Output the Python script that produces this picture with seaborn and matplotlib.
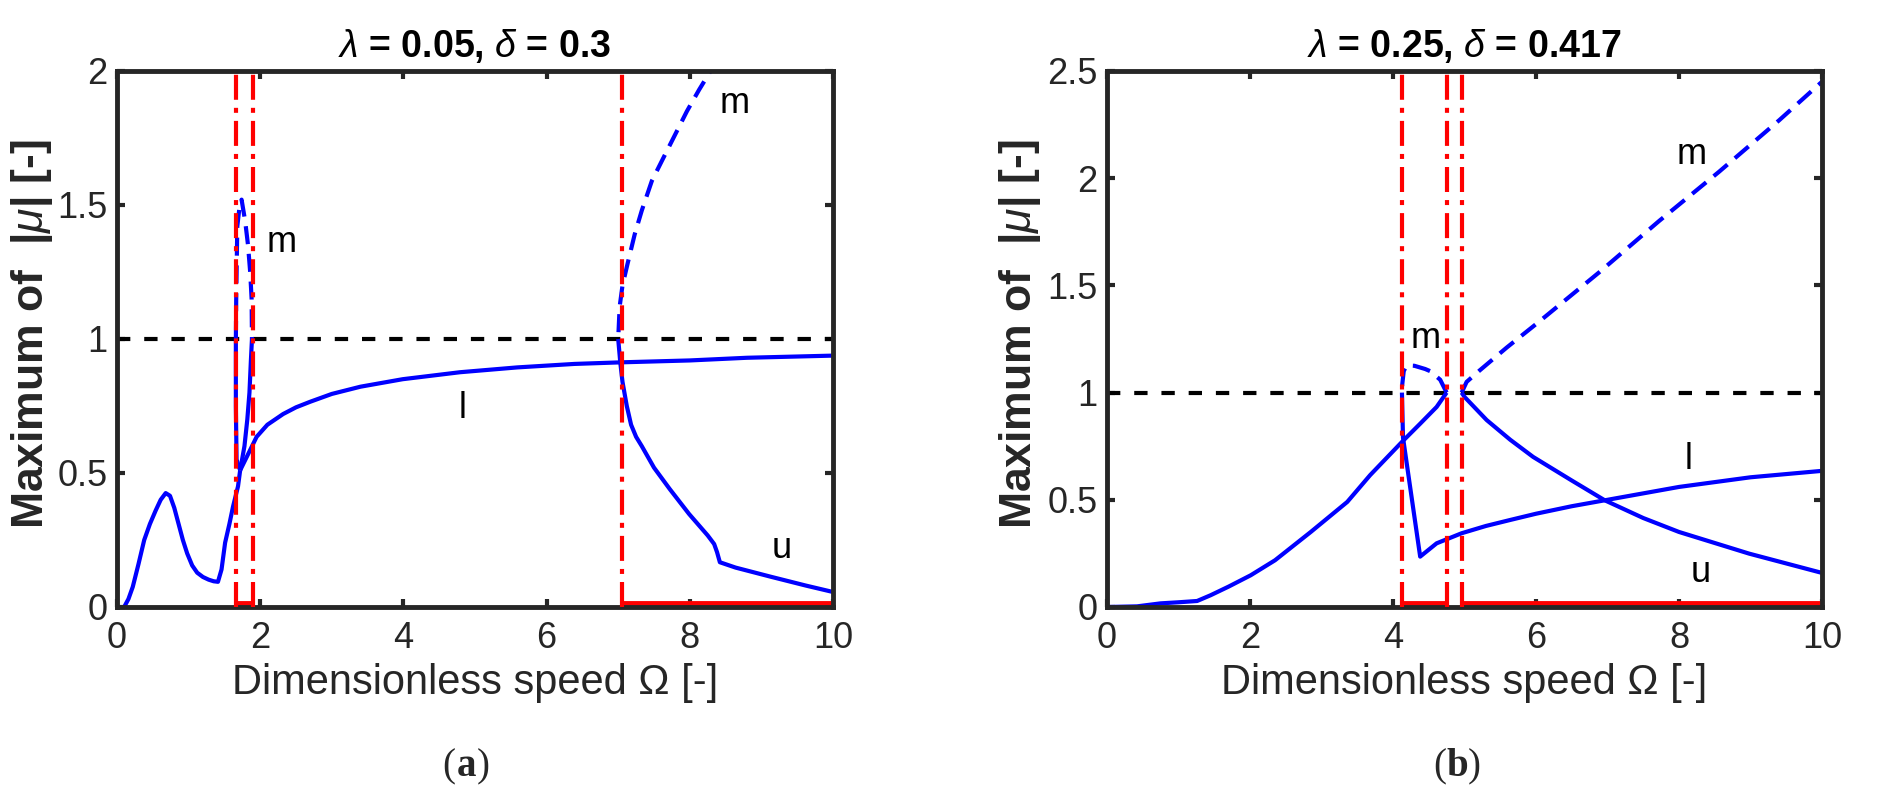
import numpy as np
import matplotlib
matplotlib.use("Agg")
import matplotlib.pyplot as plt
import seaborn as sns

# ---------------- data ----------------
# panel (a): lambda = 0.05, delta = 0.3
a_low_x = [0.10, 0.16, 0.22, 0.30, 0.38, 0.46, 0.54, 0.61, 0.68, 0.74, 0.80, 0.86, 0.92, 0.98, 1.05, 1.12, 1.20, 1.28, 1.35, 1.41, 1.46, 1.51, 1.57, 1.62, 1.69, 1.72]
a_low_y = [0.00, 0.03, 0.075, 0.16, 0.25, 0.31, 0.36, 0.40, 0.425, 0.415, 0.37, 0.31, 0.25, 0.20, 0.155, 0.128, 0.112, 0.102, 0.096, 0.094, 0.14, 0.24, 0.31, 0.374, 0.45, 0.51]

a_l_x = [1.72, 1.86, 1.95, 2.10, 2.32, 2.50, 2.70, 3.00, 3.40, 3.99, 4.79, 5.59, 6.39, 7.05, 8.00, 8.80, 10.0]
a_l_y = [0.51, 0.586, 0.635, 0.68, 0.72, 0.745, 0.766, 0.795, 0.822, 0.85, 0.876, 0.894, 0.907, 0.913, 0.92, 0.93, 0.938]

a_loop_x = [1.72, 1.67, 1.66, 1.66, 1.665, 1.68, 1.71, 1.74, 1.79, 1.83, 1.86, 1.88, 1.885, 1.87, 1.85, 1.82, 1.78, 1.74, 1.72]
a_loop_y = [0.51, 0.55, 0.75, 1.00, 1.15, 1.42, 1.49, 1.52, 1.44, 1.35, 1.25, 1.15, 1.00, 0.92, 0.80, 0.70, 0.60, 0.54, 0.51]

a_mu_x = [8.40, 8.29, 8.13, 7.96, 7.79, 7.62, 7.47, 7.33, 7.23, 7.13, 7.06, 7.02, 7.00, 7.03, 7.06, 7.12, 7.18, 7.25, 7.33, 7.50, 7.72, 7.99, 8.25, 8.34, 8.38, 8.42, 8.64, 9.13, 9.62, 10.0]
a_mu_y = [2.05, 2.00, 1.93, 1.85, 1.76, 1.67, 1.59, 1.48, 1.39, 1.28, 1.20, 1.12, 1.00, 0.91, 0.84, 0.75, 0.68, 0.635, 0.60, 0.52, 0.44, 0.347, 0.267, 0.235, 0.205, 0.167, 0.147, 0.113, 0.080, 0.056]

a_crit = [1.66, 1.90, 7.05]
a_unstable = [(1.66, 1.90), (7.05, 10.0)]

# panel (b): lambda = 0.25, delta = 0.417
b_rise_x = [0.0, 0.42, 0.75, 1.00, 1.26, 1.45, 1.70, 2.01, 2.35, 2.85, 3.36, 3.68, 4.14, 4.38, 4.61, 4.75]
b_rise_y = [0.0, 0.003, 0.017, 0.022, 0.028, 0.055, 0.095, 0.148, 0.218, 0.35, 0.49, 0.615, 0.775, 0.855, 0.933, 1.00]

b_m1_x = [4.75, 4.66, 4.52, 4.45, 4.30, 4.19, 4.15, 4.13, 4.125, 4.14, 4.38, 4.61, 4.96, 5.30, 5.64, 6.00, 6.50, 7.00, 7.50, 8.00, 9.00, 10.0]
b_m1_y = [1.00, 1.06, 1.10, 1.11, 1.125, 1.127, 1.10, 1.04, 1.00, 0.79, 0.235, 0.297, 0.344, 0.378, 0.406, 0.435, 0.47, 0.50, 0.53, 0.56, 0.605, 0.635]

b_m2_x = [4.96, 5.03, 5.20, 5.59, 6.04, 6.88, 7.72, 8.56, 9.40, 10.0]
b_m2_y = [1.00, 1.05, 1.10, 1.21, 1.33, 1.56, 1.80, 2.03, 2.27, 2.45]

b_u_x = [4.96, 5.00, 5.31, 5.64, 5.96, 6.50, 6.96, 7.50, 8.00, 8.98, 10.0]
b_u_y = [1.00, 0.98, 0.872, 0.78, 0.70, 0.59, 0.498, 0.415, 0.35, 0.249, 0.159]

b_crit = [4.12, 4.76, 4.96]
b_unstable = [(4.12, 4.76), (4.96, 10.0)]

x_ticks = [0, 2, 4, 6, 8, 10]
a_y_ticks = [0, 0.5, 1, 1.5, 2]
b_y_ticks = [0, 0.5, 1, 1.5, 2, 2.5]
a_ylim = 2.0
b_ylim = 2.5

titles = [r"$\lambda$ = 0.05, $\delta$ = 0.3", r"$\lambda$ = 0.25, $\delta$ = 0.417"]
xlabel = "Dimensionless speed Ω [-]"
ylabel = r"Maximum of  |$\mu$| [-]"

a_labels = [("m", 2.30, 1.36), ("m", 8.62, 1.88), ("l", 4.83, 0.74), ("u", 9.28, 0.22)]
b_labels = [("m", 4.45, 1.25), ("m", 8.18, 2.11), ("l", 8.14, 0.69), ("u", 8.30, 0.16)]

# ---------------- style ----------------
sns.set_theme(style="white")
plt.rcParams["font.family"] = ["Liberation Sans", "DejaVu Sans"]
plt.rcParams["mathtext.fontset"] = "custom"
plt.rcParams["mathtext.rm"] = "Liberation Sans"
plt.rcParams["mathtext.it"] = "Liberation Sans:italic"
plt.rcParams["mathtext.bf"] = "Liberation Sans:bold"
plt.rcParams["lines.scale_dashes"] = False

BLUE = "#0000FF"
RED = "#FF0000"
DARK = "#262626"
LW = 3.0
BLUE_DASH = (0, (13, 7))
BLACK_DASH = (0, (9.6, 10))
RED_DASHDOT = (0, (18, 5.8, 3.6, 5.8))

fig = plt.figure(figsize=(18.8, 8.02), dpi=100)
W, H = 1880, 802
ax_a = fig.add_axes([117 / W, (H - 607) / H, 716 / W, 536 / H])
ax_b = fig.add_axes([1107 / W, (H - 607) / H, 715 / W, 536 / H])


def draw_curve(ax, xs, ys):
    xs = np.asarray(xs, float)
    ys = np.asarray(ys, float)
    segs = []
    cur_style = None
    cur = []
    for i in range(len(xs) - 1):
        dashed = min(ys[i], ys[i + 1]) >= 1.0 and max(ys[i], ys[i + 1]) > 1.0
        if dashed != cur_style:
            if cur:
                segs.append((cur_style, cur))
            cur = [i]
            cur_style = dashed
        cur.append(i + 1)
    if cur:
        segs.append((cur_style, cur))
    for dashed, idx in segs:
        sns.lineplot(x=xs[idx], y=ys[idx], sort=False, estimator=None, ax=ax,
                     color=BLUE, linewidth=LW,
                     linestyle=BLUE_DASH if dashed else "-",
                     solid_capstyle="butt", dash_capstyle="butt",
                     solid_joinstyle="round")


def setup(ax, ylim, yticks, crit, unstable, curves, labels, title, ylab_x):
    ax.set_xlim(0, 10)
    ax.set_ylim(0, ylim)
    sns.lineplot(x=[0, 10], y=[1, 1], ax=ax, color="black", linewidth=LW,
                 linestyle=BLACK_DASH, estimator=None, sort=False)
    for cx, cy in curves:
        draw_curve(ax, cx, cy)
    for c in crit:
        ax.axvline(c, color=RED, linewidth=LW, linestyle=RED_DASHDOT, zorder=3)
    for s, e in unstable:
        sns.lineplot(x=[s, e], y=[0.015 * ylim / 2, 0.015 * ylim / 2], ax=ax, color=RED,
                     linewidth=3.5, estimator=None, sort=False, solid_capstyle="butt")
    for t, lx, ly in labels:
        ax.text(lx, ly, t, fontsize=26, ha="center", va="center", color="black")
    ax.set_xticks(x_ticks)
    ax.set_xticklabels([str(v) for v in x_ticks])
    ax.set_yticks(yticks)
    ax.set_yticklabels([("%g" % v) for v in yticks])
    ax.tick_params(axis="both", direction="in", length=6, width=3, color=DARK,
                   labelsize=26, labelcolor=DARK, top=True, right=True,
                   bottom=True, left=True)
    ax.tick_params(axis="x", pad=10)
    ax.tick_params(axis="y", pad=7)
    for sp in ax.spines.values():
        sp.set_visible(True)
        sp.set_linewidth(3.5)
        sp.set_color(DARK)
    ax.set_xlabel(xlabel, fontsize=30, color=DARK)
    ax.xaxis.set_label_coords(0.5, -0.105)
    ax.set_ylabel(ylabel, fontsize=32, color=DARK, fontweight="bold")
    ax.yaxis.set_label_coords(ylab_x, 0.51)
    ax.set_title(title, fontsize=27, fontweight="bold", color="black", pad=10)
    ax.set_facecolor("white")


setup(ax_a, a_ylim, a_y_ticks, a_crit, a_unstable,
      [(a_low_x, a_low_y), (a_l_x, a_l_y), (a_loop_x, a_loop_y), (a_mu_x, a_mu_y)],
      a_labels, titles[0], -0.087)
setup(ax_b, b_ylim, b_y_ticks, b_crit, b_unstable,
      [(b_rise_x, b_rise_y), (b_m1_x, b_m1_y), (b_m2_x, b_m2_y), (b_u_x, b_u_y)],
      b_labels, titles[1], -0.090)

# sub-captions
for cx, letter in [(466, "a"), (1457, "b")]:
    y = 1 - 767 / H
    fig.text(cx / W, y, letter, fontsize=28, fontweight="bold", ha="center", va="center",
             family=["Liberation Serif", "DejaVu Serif"])
    fig.text((cx - 11) / W, y, "(", fontsize=28, ha="right", va="center",
             family=["Liberation Serif", "DejaVu Serif"])
    fig.text((cx + 11) / W, y, ")", fontsize=28, ha="left", va="center",
             family=["Liberation Serif", "DejaVu Serif"])

fig.patch.set_facecolor("white")
fig.savefig("out.png", dpi=100, facecolor="white")
